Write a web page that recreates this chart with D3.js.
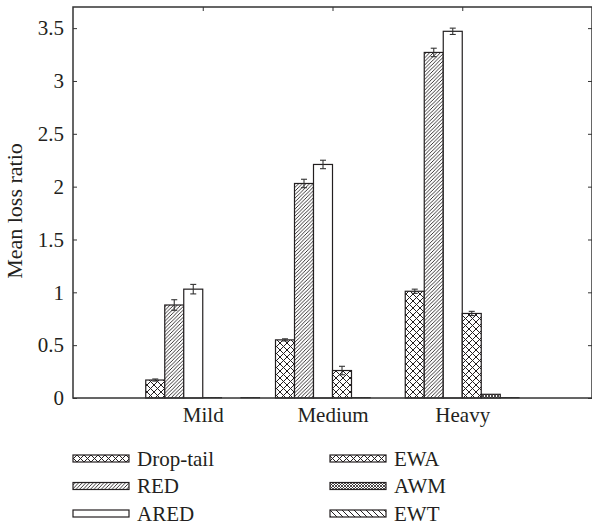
<!DOCTYPE html>
<html lang="en">
<head>
<meta charset="UTF-8">
<title>Mean loss ratio</title>
<script src="https://cdn.jsdelivr.net/npm/d3@7/dist/d3.min.js"></script>
<style>
  body { margin: 0; background: #fff; }
  svg text { font-family: "Liberation Serif", serif !important; }
</style>
</head>
<body>
<div id="chart"></div>
<script>
// data
const categories = ["Mild", "Medium", "Heavy"];
const seriesNames = ["Drop-tail", "RED", "ARED", "EWA", "AWM", "EWT"];
const dropTail = [0.17, 0.55, 1.01];
const red      = [0.88, 2.03, 3.27];
const ared     = [1.03, 2.21, 3.47];
const ewa      = [0.005, 0.26, 0.80];
const awm      = [0.0, 0.005, 0.035];
const ewt      = [0.005, 0.0, 0.005];
const errDropTail = [0.01, 0.01, 0.02];
const errRed      = [0.05, 0.04, 0.04];
const errAred     = [0.045, 0.04, 0.03];
const errEwa      = [0, 0.04, 0.02];
const errAwm      = [0, 0, 0];
const errEwt      = [0, 0, 0];
const yTicks = [0, 0.5, 1, 1.5, 2, 2.5, 3, 3.5];

const allValues = [dropTail, red, ared, ewa, awm, ewt];
const allErrors = [errDropTail, errRed, errAred, errEwa, errAwm, errEwt];
const fills = ["url(#cross)", "url(#fwd)", "#fff", "url(#cross)", "url(#fine)", "url(#back)"];

const FONT = "Liberation Serif, serif";
const INK = "#231f20";

const width = 592, height = 524;
const svg = d3.select("#chart").append("svg").attr("width", width).attr("height", height);

// patterns
const defs = svg.append("defs");
function pattern(id, size, d, sw) {
  const p = defs.append("pattern").attr("id", id)
    .attr("patternUnits", "userSpaceOnUse").attr("width", size).attr("height", size);
  p.append("rect").attr("width", size).attr("height", size).attr("fill", "#fff");
  p.append("path").attr("d", d).attr("stroke", INK).attr("stroke-width", sw).attr("fill", "none");
}
pattern("cross", 7, "M0,0L7,7M0,7L7,0M-1,6L1,8M6,-1L8,1M-1,1L1,-1M6,8L8,6", 1);
pattern("fwd", 3.6, "M-1,1L1,-1M0,3.6L3.6,0M2.6,4.6L4.6,2.6", 0.9);
pattern("fine", 3, "M0,0L3,3M0,3L3,0", 0.8);
pattern("back", 6, "M-1,5L1,7M0,0L6,6M5,-1L7,1", 1);

const m = {left: 73, right: 592, top: 7, bottom: 398};

const x = d3.scaleLinear().domain([0, 4]).range([m.left, m.right]);
const y = d3.scaleLinear().domain([0, 3.7]).range([m.bottom, m.top]);
const barW = 19;
const bx = (ci, si) => x(ci + 1) + (si - 3) * barW;

// bars
allValues.forEach((vals, si) => {
  const g = svg.append("g");
  g.selectAll("rect").data(vals).join("rect")
    .attr("x", (d, ci) => bx(ci, si))
    .attr("y", d => y(d))
    .attr("width", barW)
    .attr("height", d => m.bottom - y(d))
    .attr("fill", fills[si])
    .attr("stroke", INK)
    .attr("stroke-width", d => d > 0.02 ? 1.2 : 0.6);

  // error bars
  const errs = allErrors[si];
  const eg = g.selectAll("g.err").data(vals.map((v, ci) => ({v, e: errs[ci], ci})).filter(d => d.e > 0))
    .join("g").attr("class", "err").attr("stroke", "#333").attr("stroke-width", 1.1);
  eg.append("line")
    .attr("x1", d => bx(d.ci, si) + barW / 2).attr("x2", d => bx(d.ci, si) + barW / 2)
    .attr("y1", d => y(d.v - d.e)).attr("y2", d => y(d.v + d.e));
  eg.append("line")
    .attr("x1", d => bx(d.ci, si) + barW / 2 - 3).attr("x2", d => bx(d.ci, si) + barW / 2 + 3)
    .attr("y1", d => y(d.v + d.e)).attr("y2", d => y(d.v + d.e));
  eg.append("line")
    .attr("x1", d => bx(d.ci, si) + barW / 2 - 3).attr("x2", d => bx(d.ci, si) + barW / 2 + 3)
    .attr("y1", d => y(d.v - d.e)).attr("y2", d => y(d.v - d.e));
});

// axes
const yAxis = svg.append("g").attr("transform", `translate(${m.left},0)`)
  .call(d3.axisLeft(y).tickValues(yTicks).tickSize(-4).tickPadding(9).tickFormat(d => String(d)));
yAxis.select(".domain").remove();
yAxis.selectAll("line").attr("stroke", "#333");

const yAxisR = svg.append("g").attr("transform", `translate(${m.right},0)`)
  .call(d3.axisRight(y).tickValues(yTicks).tickSize(-4).tickFormat(""));
yAxisR.select(".domain").remove();
yAxisR.selectAll("line").attr("stroke", "#333");

const xAxis = svg.append("g").attr("transform", `translate(0,${m.bottom})`)
  .call(d3.axisBottom(x).tickValues([1, 2, 3]).tickSize(0).tickPadding(9).tickFormat(d => categories[d - 1]));
xAxis.select(".domain").remove();

const xAxisT = svg.append("g").attr("transform", `translate(0,${m.top})`)
  .call(d3.axisTop(x).tickValues([1, 2, 3]).tickSize(-4).tickFormat(""));
xAxisT.select(".domain").remove();
xAxisT.selectAll("line").attr("stroke", "#333");

[yAxis, xAxis].forEach(a => a.attr("font-family", FONT).attr("font-size", 21)
  .selectAll("text").attr("fill", INK));

// frame
svg.append("rect").attr("x", m.left).attr("y", m.top)
  .attr("width", m.right - m.left).attr("height", m.bottom - m.top)
  .attr("fill", "none").attr("stroke", "#333").attr("stroke-width", 1.5);

// y label
svg.append("text")
  .attr("transform", `translate(17,211) rotate(-90)`)
  .attr("text-anchor", "middle").attr("dominant-baseline", "middle")
  .attr("font-family", FONT).attr("fill", INK)
  .attr("font-size", 22).text("Mean loss ratio");

// legend
const legend = svg.append("g").attr("font-family", FONT).attr("font-size", 21);
seriesNames.forEach((name, i) => {
  const col = Math.floor(i / 3), row = i % 3;
  const lx = col === 0 ? 73 : 330;
  const ly = 458.5 + row * 27.5;
  legend.append("rect").attr("x", lx).attr("y", ly - 3.5).attr("width", 56).attr("height", 7)
    .attr("fill", fills[i]).attr("stroke", INK).attr("stroke-width", 1.2);
  legend.append("text").attr("x", lx + 64).attr("y", ly + 7)
    .attr("fill", INK).text(name);
});
</script>
</body>
</html>
